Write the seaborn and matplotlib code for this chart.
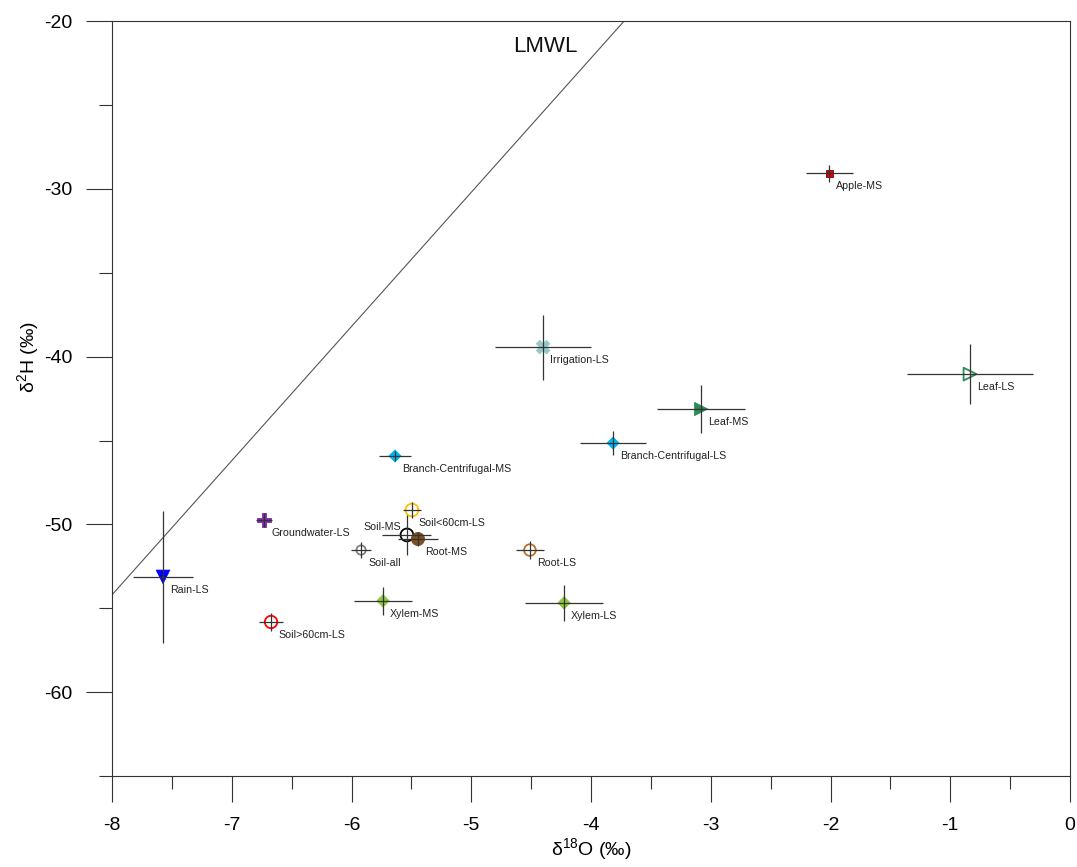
import numpy as np
import pandas as pd
import matplotlib
matplotlib.use("Agg")
import matplotlib.pyplot as plt
import seaborn as sns
from matplotlib.ticker import MultipleLocator

# sample means and half-widths of the crosshair error bars
samples = ["Apple-MS", "Irrigation-LS", "Leaf-LS", "Leaf-MS",
           "Branch-Centrifugal-LS", "Branch-Centrifugal-MS", "Groundwater-LS",
           "Soil<60cm-LS", "Soil-MS", "Root-MS", "Soil-all", "Root-LS",
           "Rain-LS", "Xylem-MS", "Xylem-LS", "Soil>60cm-LS"]
d18o = [-2.01, -4.40, -0.835, -3.08, -3.816, -5.637, -6.73,
        -5.495, -5.537, -5.445, -5.92, -4.51, -7.574, -5.737, -4.225, -6.672]
d2h = [-29.06, -39.43, -41.04, -43.12, -45.15, -45.92, -49.74,
       -49.14, -50.63, -50.87, -51.53, -51.53, -53.13, -54.56, -54.68, -55.82]
d18o_err = [0.196, 0.40, 0.526, 0.367, 0.276, 0.134, 0.07,
            0.075, 0.205, 0.165, 0.085, 0.117, 0.25, 0.244, 0.326, 0.10]
d2h_err = [0.5, 1.94, 1.79, 1.46, 0.69, 0.3, 0.4,
           0.5, 1.2, 0.42, 0.5, 0.55, 3.93, 0.84, 1.07, 0.55]

# local meteoric water line: d2H = slope * d18O + intercept
lmwl_slope = 8.0
lmwl_intercept = 9.8

markers = {"Apple-MS": "s", "Irrigation-LS": "X", "Leaf-LS": ">", "Leaf-MS": ">",
           "Branch-Centrifugal-LS": "D", "Branch-Centrifugal-MS": "D",
           "Groundwater-LS": "P", "Soil<60cm-LS": "o", "Soil-MS": "o",
           "Root-MS": "o", "Soil-all": "o", "Root-LS": "o", "Rain-LS": "v",
           "Xylem-MS": "D", "Xylem-LS": "D", "Soil>60cm-LS": "o"}
colors = {"Apple-MS": "#e00000", "Irrigation-LS": "#96c8c8", "Leaf-LS": "#2e8b57",
          "Leaf-MS": "#2e8b57", "Branch-Centrifugal-LS": "#00b4f0",
          "Branch-Centrifugal-MS": "#00b4f0", "Groundwater-LS": "#7a2aa8",
          "Soil<60cm-LS": "#ffc000", "Soil-MS": "#000000", "Root-MS": "#7f4f24",
          "Soil-all": "#808080", "Root-LS": "#b8732e", "Rain-LS": "#0000ff",
          "Xylem-MS": "#8dc63f", "Xylem-LS": "#8dc63f", "Soil>60cm-LS": "#ff0000"}
hollow = {"Leaf-LS", "Soil<60cm-LS", "Soil-MS", "Soil-all", "Root-LS", "Soil>60cm-LS"}
sizes = {"Apple-MS": 28, "Irrigation-LS": 95, "Leaf-LS": 85, "Leaf-MS": 90,
         "Branch-Centrifugal-LS": 38, "Branch-Centrifugal-MS": 38,
         "Groundwater-LS": 95, "Soil<60cm-LS": 85, "Soil-MS": 85, "Root-MS": 90,
         "Soil-all": 45, "Root-LS": 70, "Rain-LS": 95, "Xylem-MS": 40,
         "Xylem-LS": 40, "Soil>60cm-LS": 80}

df = pd.DataFrame({"sample": samples, "d18O": d18o, "d2H": d2h,
                   "ex": d18o_err, "ey": d2h_err})

sns.set_style("ticks")
plt.rcParams["font.family"] = ["Liberation Sans", "DejaVu Sans"]
plt.rcParams["mathtext.fontset"] = "custom"
plt.rcParams["mathtext.rm"] = "Liberation Sans"
plt.rcParams["mathtext.it"] = "Liberation Sans:italic"
plt.rcParams["axes.unicode_minus"] = False

fig = plt.figure(figsize=(10.77, 8.67), dpi=100)
ax = fig.add_axes([0.104, 0.105, 0.8895, 0.8705])

sns.scatterplot(data=df, x="d18O", y="d2H", hue="sample", style="sample",
                palette=colors, markers=markers, legend=False, ax=ax, zorder=2)
pts = ax.collections[0]
fc = [(0, 0, 0, 0) if s in hollow else colors[s] for s in samples]
ec = ["#800000" if s == "Apple-MS" else colors[s] for s in samples]
pts.set_facecolors(fc)
pts.set_edgecolors(ec)
pts.set_linewidths([1.3 if s in hollow else 0.6 for s in samples])
pts.set_sizes([sizes[s] for s in samples])

ax.errorbar(df["d18O"], df["d2H"], xerr=df["ex"], yerr=df["ey"], fmt="none",
            ecolor="#333333", elinewidth=0.9, capsize=0, zorder=3)

for s, x, y in zip(samples, d18o, d2h):
    if s == "Soil-MS":
        ax.annotate(s, (x, y), xytext=(-4, 6), textcoords="offset points",
                    ha="right", va="center", fontsize=7.7, color="#222222")
    else:
        ax.annotate(s, (x, y), xytext=(5, -9.5), textcoords="offset points",
                    ha="left", va="center", fontsize=7.7, color="#222222")

xl = np.array([-8.0, (-20 - lmwl_intercept) / lmwl_slope])
ax.plot(xl, lmwl_slope * xl + lmwl_intercept, color="#555555", lw=0.8, zorder=1)
ax.text(-4.384, -21.52, "LMWL", fontsize=16, ha="center", va="center", color="#111111")

ax.set_xlim(-8, 0)
ax.set_ylim(-65, -20)
ax.xaxis.set_major_locator(MultipleLocator(1))
ax.xaxis.set_minor_locator(MultipleLocator(0.5))
ax.yaxis.set_major_locator(MultipleLocator(10))
ax.yaxis.set_minor_locator(MultipleLocator(5))
ax.set_yticks([-60, -50, -40, -30, -20])
ax.tick_params(axis="both", which="major", direction="out", length=18.5,
               width=0.8, color="#333333", labelsize=14, pad=10,
               labelcolor="#000000")
ax.tick_params(axis="both", which="minor", direction="out", length=9.2,
               width=0.8, color="#333333")
ax.tick_params(axis="x", which="major", pad=11)
for sp in ax.spines.values():
    sp.set_linewidth(0.8)
    sp.set_color("#333333")

ax.set_xlabel("δ$^{18}$O (‰)", fontsize=14, color="#000000")
ax.set_ylabel("δ$^{2}$H (‰)", fontsize=14, color="#000000")
ax.xaxis.set_label_coords(0.5, -0.08)
ax.yaxis.set_label_coords(-0.074, 0.555)

fig.savefig("out.png", dpi=100)
